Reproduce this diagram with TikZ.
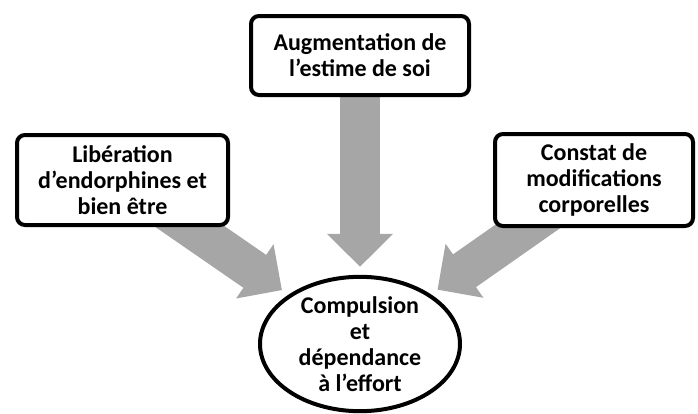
\documentclass[tikz,border=0pt]{standalone}
\usepackage{fontspec}
\setmainfont{Carlito}
\usetikzlibrary{shapes.geometric,arrows.meta,backgrounds}
\definecolor{arrowgray}{RGB}{166,166,166}
\tikzset{
  infobox/.style={draw,line width=4pt,rounded corners=8pt,fill=white,align=center,inner sep=0pt,
    font=\fontsize{24}{26}\selectfont\bfseries},
  endstate/.style={ellipse,draw,line width=4pt,fill=white,align=center,inner sep=0pt,
    font=\fontsize{24}{26}\selectfont\bfseries},
  bigarrow/.style={draw=arrowgray,line width=40pt,-{Triangle[width=64pt,length=33pt]},shorten >=8pt},
}

\begin{document}
\begin{tikzpicture}[x=1pt,y=-1pt]
\useasboundingbox (0,0) rectangle (698,413);

\node[infobox,minimum width=211pt,minimum height=90pt] (endo) at (122.5,180) {Libération\\d'endorphines et\\bien être};
\node[infobox,minimum width=218pt,minimum height=79pt] (estime) at (360,55.5) {Augmentation de\\l'estime de soi};
\node[infobox,minimum width=198pt,minimum height=92pt] (constat) at (594,180) {Constat de\\modifications\\corporelles};
\node[endstate,minimum width=200pt,minimum height=130pt] (compul) at (360,344) {Compulsion\\et\\dépendance\\à l'effort};

\begin{scope}[on background layer]
\draw[bigarrow] (endo.center) -- (compul);
\draw[bigarrow] (estime.center) -- (compul);
\draw[bigarrow] (constat.center) -- (compul);
\end{scope}

\end{tikzpicture}
\end{document}
